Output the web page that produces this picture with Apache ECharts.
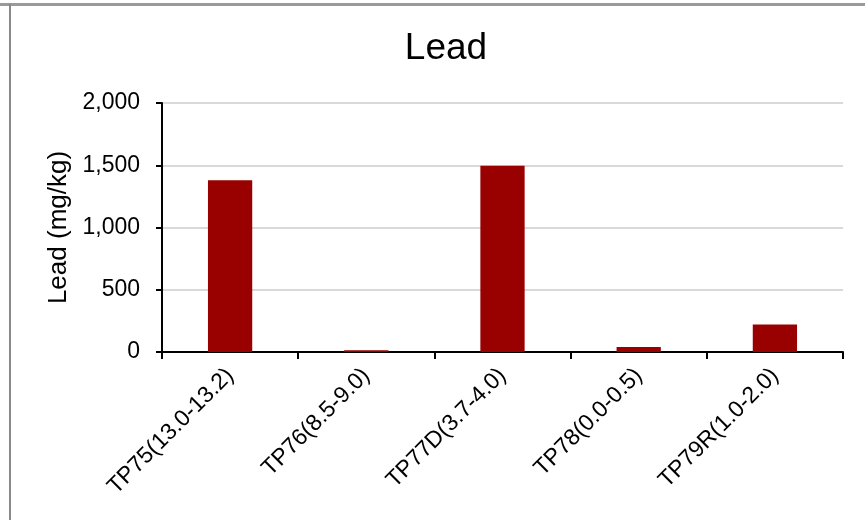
<!DOCTYPE html>
<html>
<head>
<meta charset="utf-8">
<script src="https://cdn.jsdelivr.net/npm/echarts@6/dist/echarts.min.js"></script>
<style>html,body{margin:0;padding:0;background:#fff}#c{width:865px;height:520px}</style>
</head>
<body>
<div id="c"></div>
<script>
const categories = ['TP75(13.0-13.2)', 'TP76(8.5-9.0)', 'TP77D(3.7-4.0)', 'TP78(0.0-0.5)', 'TP79R(1.0-2.0)'];
const leadValues = [1380, 15, 1495, 40, 220];
const yTicks = { min: 0, max: 2000, interval: 500 };
const titleText = 'Lead';
const yAxisTitle = 'Lead (mg/kg)';

const FONT = "'Liberation Sans', Arial, sans-serif";
const chart = echarts.init(document.getElementById('c'), null, { renderer: 'canvas' });
chart.setOption({
  animation: false,
  backgroundColor: '#fff',
  title: {
    text: titleText,
    left: 441,
    textAlign: 'center',
    top: 25,
    textStyle: { fontFamily: FONT, fontSize: 37, fontWeight: 'normal', color: '#000' }
  },
  graphic: [
    { type: 'line', shape: { x1: 0, y1: 4.5, x2: 865, y2: 4.5 }, style: { stroke: '#9a9a9a', lineWidth: 3 } },
    { type: 'line', shape: { x1: 10, y1: 4, x2: 10, y2: 520 }, style: { stroke: '#8a8a8a', lineWidth: 2 } }
  ],
  grid: { left: 162, right: 22, top: 103, bottom: 168, containLabel: false },
  xAxis: {
    type: 'category',
    data: categories,
    axisLine: { lineStyle: { color: '#000', width: 2 } },
    axisTick: { show: true, length: 7, alignWithLabel: false, lineStyle: { color: '#000', width: 2 } },
    axisLabel: { rotate: 45, margin: 20, interval: 0, fontFamily: FONT, fontSize: 23, color: '#000' },
    splitLine: { show: false }
  },
  yAxis: {
    type: 'value',
    min: yTicks.min, max: yTicks.max, interval: yTicks.interval,
    name: yAxisTitle,
    nameLocation: 'middle',
    nameGap: 88,
    nameTextStyle: { fontFamily: FONT, fontSize: 26, color: '#000' },
    axisLine: { show: true, lineStyle: { color: '#000', width: 2 } },
    axisTick: { show: true, length: 6, lineStyle: { color: '#000', width: 2 } },
    axisLabel: {
      margin: 22, fontFamily: FONT, fontSize: 23, color: '#000',
      formatter: v => v.toLocaleString('en-US')
    },
    splitLine: { lineStyle: { color: '#d9d9d9', width: 2 } }
  },
  series: [{
    type: 'bar',
    data: leadValues,
    barWidth: '32.5%',
    itemStyle: { color: '#990000' }
  }]
});
</script>
</body>
</html>
